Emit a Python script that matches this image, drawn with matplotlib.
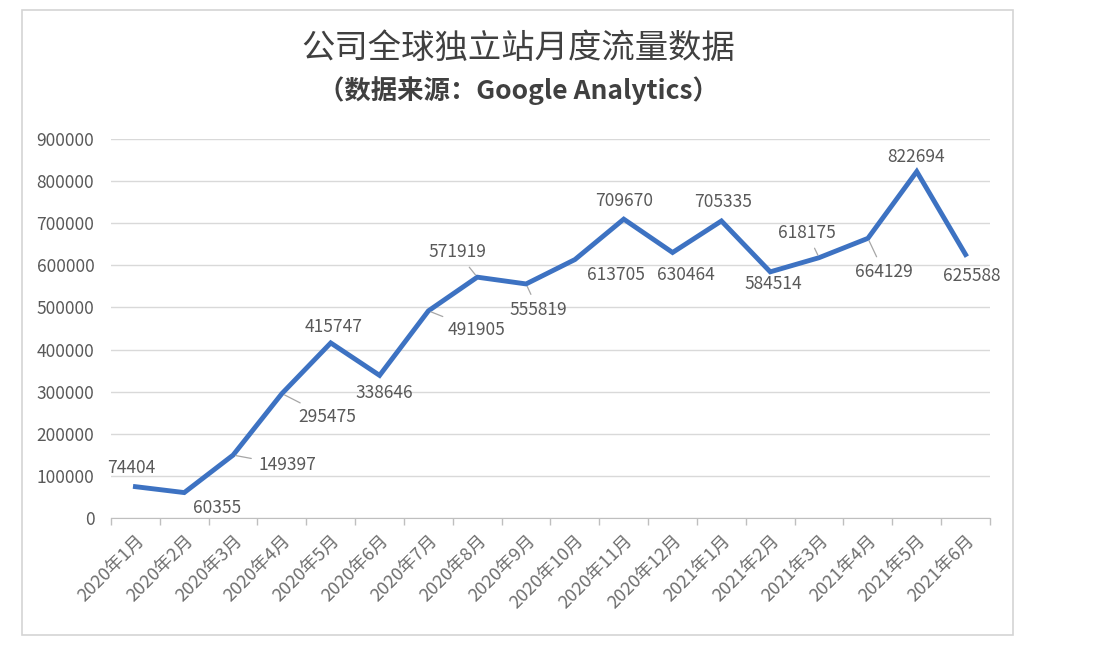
import matplotlib.pyplot as plt
from matplotlib.patches import Rectangle

plt.rcParams['font.family'] = ['Noto Sans CJK SC', 'DejaVu Sans']

# data
months = ['2020年1月', '2020年2月', '2020年3月', '2020年4月', '2020年5月', '2020年6月',
          '2020年7月', '2020年8月', '2020年9月', '2020年10月', '2020年11月', '2020年12月',
          '2021年1月', '2021年2月', '2021年3月', '2021年4月', '2021年5月', '2021年6月']
visits = [74404, 60355, 149397, 295475, 415747, 338646,
          491905, 571919, 555819, 613705, 709670, 630464,
          705335, 584514, 618175, 664129, 822694, 625588]
yticks = [0, 100000, 200000, 300000, 400000, 500000, 600000, 700000, 800000, 900000]

# where each value label sits, in pixels from its point, and whether it has a leader line
label_offsets = [(-4, 19), (33, -15), (54, -10), (45, -23), (3, 16), (5, -18),
                 (48, -19), (-20, 25), (12, -26), (41, -15), (0, 18), (13, -22),
                 (2, 19), (3, -12), (-12, 25), (16, -34), (-1, 15), (6, -21)]
leaders = [False, False, True, True, False, False,
           True, True, True, False, False, False,
           False, False, True, True, False, False]

blue = '#3d72c2'
grey = '#595959'

fig = plt.figure(figsize=(11.06, 6.56), dpi=100)
fig.patch.set_facecolor('white')
fig.patches.append(Rectangle((22 / 1106, 1 - 635 / 656), 991 / 1106, 625 / 656,
                             transform=fig.transFigure, fill=False,
                             edgecolor='#d4d4d4', linewidth=1.2))

ax = fig.add_axes([111 / 1106, 1 - 518 / 656, 879 / 1106, 379 / 656])
x = list(range(len(months)))
ax.plot(x, visits, color=blue, linewidth=3.5, solid_joinstyle='miter', zorder=3)

for i, v in enumerate(visits):
    dx, dy = label_offsets[i]
    arrow = None
    if leaders[i]:
        arrow = dict(arrowstyle='-', color='#a6a6a6', lw=0.9, shrinkA=3, shrinkB=2)
    ax.annotate(str(v), (i, v), xytext=(dx, dy), textcoords='offset pixels',
                ha='center', va='center', fontsize=12.5, color=grey,
                arrowprops=arrow, zorder=4)

ax.set_xlim(-0.5, len(months) - 0.5)
ax.set_ylim(0, 900000)
ax.set_yticks(yticks)
ax.set_yticklabels([str(t) for t in yticks], fontsize=12.5, color=grey)
ax.tick_params(axis='y', length=0, pad=12)
ax.grid(axis='y', color='#d9d9d9', linewidth=1)
ax.set_axisbelow(True)

ax.set_xticks(x)
ax.set_xticklabels(months, rotation=45, ha='right', va='top',
                   rotation_mode='anchor', fontsize=13, color='#6e6e6e')
ax.tick_params(axis='x', length=0, pad=10)
ax.set_xticks([i - 0.5 for i in range(len(months) + 1)], minor=True)
ax.tick_params(axis='x', which='minor', length=5, color='#bfbfbf', width=1)

for side in ['top', 'right', 'left']:
    ax.spines[side].set_visible(False)
ax.spines['bottom'].set_color('#bfbfbf')

fig.text(518 / 1106, 1 - 48 / 656, '公司全球独立站月度流量数据',
         ha='center', va='center', fontsize=24, color='#404040')
fig.text(518 / 1106, 1 - 91 / 656, '（数据来源：Google Analytics）',
         ha='center', va='center', fontsize=19, fontweight='bold', color='#404040')

fig.savefig('out.png', dpi=100, facecolor='white')
